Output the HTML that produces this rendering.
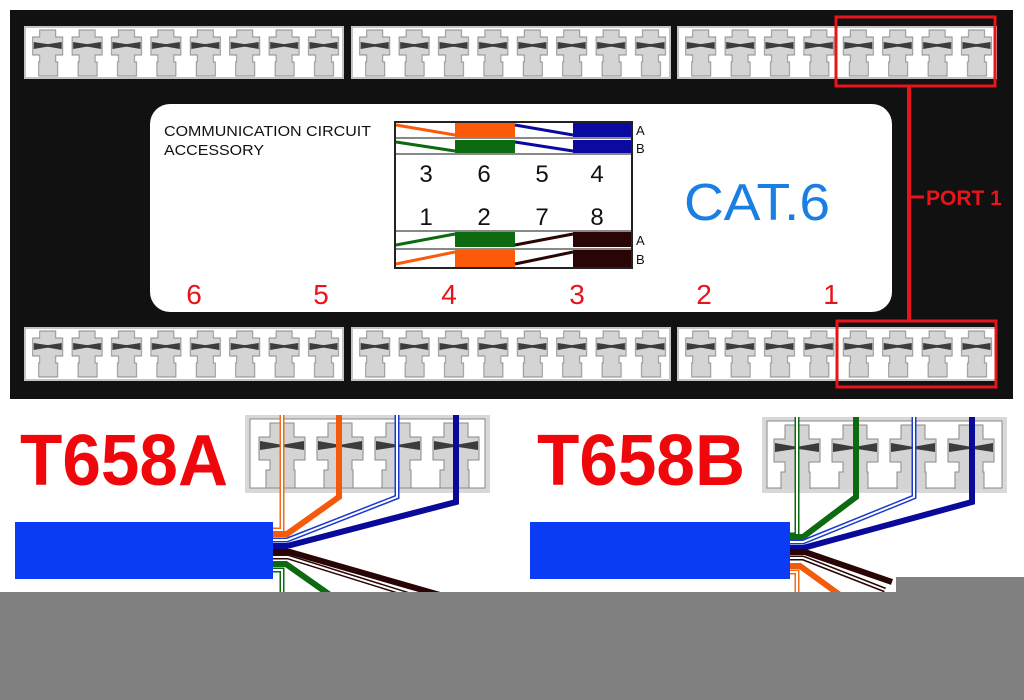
<!DOCTYPE html>
<html><head><meta charset="utf-8"><style>
html,body{margin:0;padding:0;background:#fff;}
svg{display:block;font-family:"Liberation Sans",Arial,sans-serif;}
</style></head><body>
<svg width="1024" height="700" viewBox="0 0 1024 700" xmlns="http://www.w3.org/2000/svg">
<defs>
<pattern id="pj" patternUnits="userSpaceOnUse" x="3" y="0" width="39.4" height="60">
  <path d="M11.7 3 H27.7 V10 H34.7 V28 H27.7 V35 H29.7 V49 H10.7 V35 H11.7 V28 H4.7 V10 H11.7 Z" fill="#d4d4d4" stroke="#8a8a8a" stroke-width="0.9"/>
  <polygon points="5.7,15 18.7,17 20.7,17 33.7,15 33.7,22 20.7,19.8 18.7,19.8 5.7,22" fill="#3c3c3c"/>
</pattern>
<pattern id="pbA" patternUnits="userSpaceOnUse" x="8" y="0" width="58" height="80">
  <path d="M17 8 H41 V22 H52 V45 H41 V55 H42 V73 H13 V55 H17 V45 H6 V22 H17 Z" fill="#d4d4d4" stroke="#8a8a8a" stroke-width="1"/>
  <polygon points="7,26 27,29.5 31,29.5 51,26 51,35 31,32 27,32 7,35" fill="#3c3c3c"/>
</pattern>
<pattern id="pbB" patternUnits="userSpaceOnUse" x="6" y="0" width="58" height="80">
  <path d="M17 8 H41 V22 H52 V45 H41 V55 H42 V73 H13 V55 H17 V45 H6 V22 H17 Z" fill="#d4d4d4" stroke="#8a8a8a" stroke-width="1"/>
  <polygon points="7,26 27,29.5 31,29.5 51,26 51,35 31,32 27,32 7,35" fill="#3c3c3c"/>
</pattern>
</defs>
<rect x="0" y="0" width="1024" height="700" fill="#fff"/>
<rect x="10" y="10" width="1003" height="389" fill="#111"/>

<!-- top port row -->
<g transform="translate(25,27)"><rect x="0" y="0" width="318" height="51" fill="#fff" stroke="#c4c4c4" stroke-width="2"/><rect x="3" y="0" width="315" height="50" fill="url(#pj)"/></g>
<g transform="translate(352,27)"><rect x="0" y="0" width="318" height="51" fill="#fff" stroke="#c4c4c4" stroke-width="2"/><rect x="3" y="0" width="315" height="50" fill="url(#pj)"/></g>
<g transform="translate(678,27)"><rect x="0" y="0" width="318" height="51" fill="#fff" stroke="#c4c4c4" stroke-width="2"/><rect x="3" y="0" width="315" height="50" fill="url(#pj)"/></g>
<!-- bottom port row -->
<g transform="translate(25,328)"><rect x="0" y="0" width="318" height="52" fill="#fff" stroke="#c4c4c4" stroke-width="2"/><rect x="3" y="0" width="315" height="51" fill="url(#pj)"/></g>
<g transform="translate(352,328)"><rect x="0" y="0" width="318" height="52" fill="#fff" stroke="#c4c4c4" stroke-width="2"/><rect x="3" y="0" width="315" height="51" fill="url(#pj)"/></g>
<g transform="translate(678,328)"><rect x="0" y="0" width="318" height="52" fill="#fff" stroke="#c4c4c4" stroke-width="2"/><rect x="3" y="0" width="315" height="51" fill="url(#pj)"/></g>

<!-- red port markers -->
<rect x="836" y="17" width="159" height="69" fill="none" stroke="#e8141a" stroke-width="3"/>
<rect x="837" y="321" width="159" height="66" fill="none" stroke="#e8141a" stroke-width="3"/>
<line x1="909" y1="86" x2="909" y2="321" stroke="#e8141a" stroke-width="4"/>
<line x1="909" y1="197" x2="924" y2="197" stroke="#e8141a" stroke-width="3"/>
<text x="926" y="205" font-size="21" font-weight="bold" fill="#e8141a">PORT 1</text>

<!-- label -->
<rect x="150" y="104" width="742" height="208" rx="20" fill="#fff"/>
<text x="164" y="136" font-size="15" fill="#111" textLength="207" lengthAdjust="spacingAndGlyphs">COMMUNICATION CIRCUIT</text>
<text x="164" y="155" font-size="15" fill="#111" textLength="100" lengthAdjust="spacingAndGlyphs">ACCESSORY</text>
<text x="684" y="220" font-size="52" fill="#1a7fe3" textLength="146" lengthAdjust="spacingAndGlyphs">CAT.6</text>
<g font-size="28" fill="#e8141a" text-anchor="middle">
<text x="194" y="304">6</text><text x="321" y="304">5</text><text x="449" y="304">4</text>
<text x="577" y="304">3</text><text x="704" y="304">2</text><text x="831" y="304">1</text>
</g>

<!-- color table -->
<g>
<rect x="395" y="122" width="237" height="146" fill="#fff" stroke="#222" stroke-width="2"/>
<rect x="455" y="123" width="60" height="14" fill="#fa5a0a"/>
<rect x="573" y="123" width="59" height="14" fill="#0a0aa0"/>
<line x1="396" y1="125" x2="455" y2="135" stroke="#fa5a0a" stroke-width="3"/>
<line x1="515" y1="125" x2="573" y2="135" stroke="#0a0aa0" stroke-width="3"/>
<line x1="395" y1="138" x2="632" y2="138" stroke="#888" stroke-width="2"/>
<rect x="455" y="140" width="60" height="13" fill="#0d6a10"/>
<rect x="573" y="140" width="59" height="13" fill="#0a0aa0"/>
<line x1="396" y1="142" x2="455" y2="151" stroke="#0d6a10" stroke-width="3"/>
<line x1="515" y1="142" x2="573" y2="151" stroke="#0a0aa0" stroke-width="3"/>
<line x1="395" y1="154" x2="632" y2="154" stroke="#888" stroke-width="2"/>
<g font-size="24" fill="#111" text-anchor="middle">
<text x="426" y="182">3</text><text x="484" y="182">6</text><text x="542" y="182">5</text><text x="597" y="182">4</text>
<text x="426" y="225">1</text><text x="484" y="225">2</text><text x="542" y="225">7</text><text x="597" y="225">8</text>
</g>
<line x1="395" y1="231" x2="632" y2="231" stroke="#888" stroke-width="2"/>
<rect x="455" y="232" width="60" height="15" fill="#0d6a10"/>
<rect x="573" y="232" width="59" height="15" fill="#2a0505"/>
<line x1="396" y1="245" x2="455" y2="234" stroke="#0d6a10" stroke-width="3"/>
<line x1="515" y1="245" x2="573" y2="234" stroke="#2a0505" stroke-width="3"/>
<line x1="395" y1="249" x2="632" y2="249" stroke="#888" stroke-width="2"/>
<rect x="455" y="250" width="60" height="17" fill="#fa5a0a"/>
<rect x="573" y="250" width="59" height="17" fill="#2a0505"/>
<line x1="396" y1="264" x2="455" y2="252" stroke="#fa5a0a" stroke-width="3"/>
<line x1="515" y1="264" x2="573" y2="252" stroke="#2a0505" stroke-width="3"/>
<rect x="395" y="122" width="237" height="146" fill="none" stroke="#222" stroke-width="2"/>
<g font-size="13" fill="#111">
<text x="636" y="135">A</text><text x="636" y="153">B</text>
<text x="636" y="245">A</text><text x="636" y="264">B</text>
</g>
</g>

<!-- T658A -->
<text x="20" y="485" font-size="72" font-weight="bold" fill="#f0070c" textLength="208" lengthAdjust="spacingAndGlyphs">T658A</text>
<g transform="translate(245,415)">
<rect x="0" y="0" width="245" height="78" fill="#d8d8d8"/>
<rect x="5" y="4" width="235" height="69" fill="#fff" stroke="#888" stroke-width="1"/>
<rect x="8" y="0" width="232" height="74" fill="url(#pbA)"/>
</g>
<rect x="15" y="522" width="258" height="57" fill="#0a3cf5"/>
<g fill="none" stroke-linejoin="miter">
<path d="M282 415 V530 H273" stroke="#f26a1a" stroke-width="5"/>
<path d="M282 415 V530 H273" stroke="#fff" stroke-width="2"/>
<path d="M339 415 V497 L287 534 H273" stroke="#f55a0a" stroke-width="6"/>
<path d="M397 415 V497 L287 540 H273" stroke="#1a3acd" stroke-width="5"/>
<path d="M397 415 V497 L287 540 H273" stroke="#fff" stroke-width="2"/>
<path d="M456 415 V502 L287 546 H273" stroke="#0a0a9a" stroke-width="6"/>
<path d="M273 552 H290 L440 595" stroke="#2a0505" stroke-width="6"/>
<path d="M273 557 H288 L410 595" stroke="#2a0505" stroke-width="5"/>
<path d="M273 557 H288 L410 595" stroke="#fff" stroke-width="2"/>
<path d="M273 564 H286 L330 595" stroke="#0d6a10" stroke-width="6"/>
<path d="M273 570 H282 V595" stroke="#0d6a10" stroke-width="5"/>
<path d="M273 570 H282 V595" stroke="#fff" stroke-width="2"/>
</g>

<!-- T658B -->
<text x="537" y="485" font-size="72" font-weight="bold" fill="#f0070c" textLength="208" lengthAdjust="spacingAndGlyphs">T658B</text>
<g transform="translate(762,417)">
<rect x="0" y="0" width="245" height="76" fill="#d8d8d8"/>
<rect x="5" y="4" width="235" height="67" fill="#fff" stroke="#888" stroke-width="1"/>
<rect x="6" y="0" width="232" height="72" fill="url(#pbB)"/>
</g>
<rect x="530" y="522" width="260" height="57" fill="#0a3cf5"/>
<g fill="none">
<path d="M797 417 V535 H790" stroke="#0d6a10" stroke-width="5"/>
<path d="M797 417 V535 H790" stroke="#fff" stroke-width="2"/>
<path d="M856 417 V497 L803 537 H790" stroke="#0d6a10" stroke-width="6"/>
<path d="M914 417 V497 L803 542 H790" stroke="#1a3acd" stroke-width="5"/>
<path d="M914 417 V497 L803 542 H790" stroke="#fff" stroke-width="2"/>
<path d="M972 417 V502 L803 548 H790" stroke="#0a0a9a" stroke-width="6"/>
<path d="M790 552 H805 L892 582" stroke="#2a0505" stroke-width="6"/>
<path d="M790 558 H803 L885 590" stroke="#2a0505" stroke-width="5"/>
<path d="M790 558 H803 L885 590" stroke="#fff" stroke-width="2"/>
<path d="M790 566 H800 L840 595" stroke="#f55a0a" stroke-width="6"/>
<path d="M790 572 H797 V595" stroke="#f26a1a" stroke-width="5"/>
<path d="M790 572 H797 V595" stroke="#fff" stroke-width="2"/>
</g>
<rect x="896" y="577" width="128" height="20" fill="#808080"/>
<rect x="0" y="592" width="1024" height="108" fill="#808080"/>
</svg>
</body></html>
